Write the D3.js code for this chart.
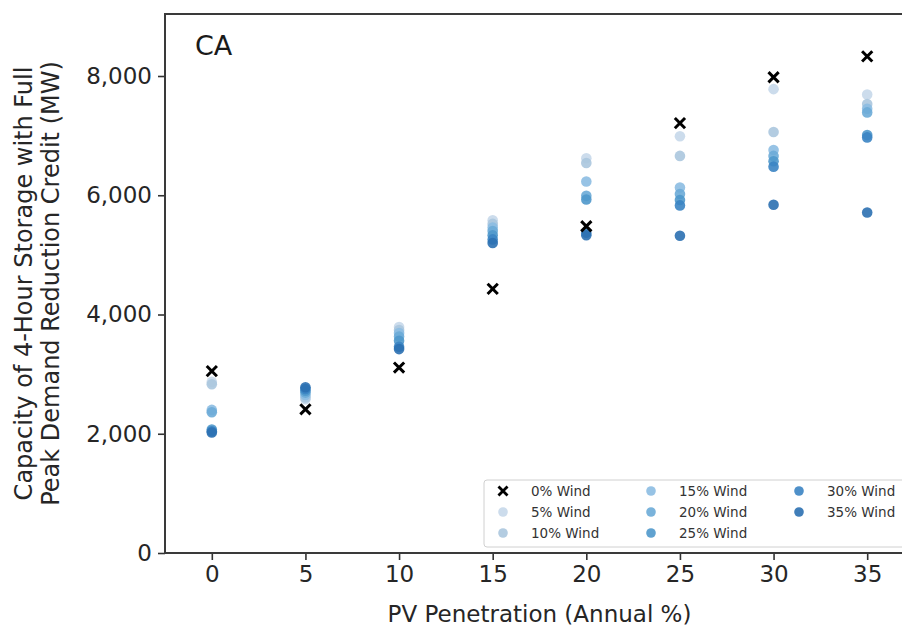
<!DOCTYPE html>
<html>
<head>
<meta charset="utf-8">
<script src="https://cdn.jsdelivr.net/npm/d3@7"></script>
<style>
  body { margin: 0; background: #fff; }
  text { font-family: "DejaVu Sans", sans-serif; }
</style>
</head>
<body>
<div id="chart"></div>
<script>
// PV penetration levels (x) and wind series
var pvLevels = [0, 5, 10, 15, 20, 25, 30, 35];
var windLabels = ["0% Wind", "5% Wind", "10% Wind", "15% Wind", "20% Wind", "25% Wind", "30% Wind", "35% Wind"];
var xTicks = [0, 5, 10, 15, 20, 25, 30, 35];
var yTicks = [0, 2000, 4000, 6000, 8000];

// storage capacity (MW) for each wind level, one value per PV level
var wind0 = [3050, 2410, 3110, 4430, 5480, 7210, 7980, 8330];
var wind5 = [2870, 2580, 3790, 5580, 6620, 6990, 7780, 7690];
var wind10 = [2830, 2610, 3740, 5520, 6540, 6660, 7060, 7530];
var wind15 = [2400, 2650, 3690, 5460, 6230, 6130, 6760, 7450];
var wind20 = [2360, 2690, 3630, 5400, 5990, 6020, 6660, 7390];
var wind25 = [2070, 2720, 3560, 5330, 5930, 5920, 6570, 7010];
var wind30 = [2040, 2750, 3460, 5260, 5370, 5830, 6480, 6970];
var wind35 = [2020, 2780, 3420, 5200, 5330, 5320, 5840, 5710];

var dotColors = ["#c6d8ea", "#abc6de", "#8cbce2", "#6cabd7", "#4f98cb", "#3b84c3", "#2b70b1"];

var W = 902, H = 628;
var margin = { top: 14, right: -12, bottom: 75, left: 165 },
  width = W - margin.left - margin.right,
  height = H - margin.top - margin.bottom;

var svg = d3.select("#chart")
  .append("svg")
  .attr("width", W)
  .attr("height", H);

var chart = svg.append("g")
  .attr("transform", "translate(" + margin.left + "," + margin.top + ")");

var x = d3.scaleLinear().domain([-2.5, 37.5]).range([0, width]);
var y = d3.scaleLinear().domain([0, 9040]).range([height, 0]);

// axes
var xAxis = chart.append("g")
  .attr("transform", "translate(0," + height + ")")
  .call(d3.axisBottom(x).tickValues(xTicks).tickSize(7).tickPadding(6).tickFormat(d3.format("d")));
var yAxis = chart.append("g")
  .call(d3.axisLeft(y).tickValues(yTicks).tickSize(7).tickPadding(6).tickFormat(d3.format(",")));

[xAxis, yAxis].forEach(function (a) {
  a.select(".domain").remove();
  a.selectAll(".tick line").attr("stroke", "#333").attr("stroke-width", 1.6);
  a.selectAll(".tick text").attr("fill", "#262626").style("font-size", "23px");
});

// spines
chart.append("rect")
  .attr("x", 0).attr("y", 0)
  .attr("width", width).attr("height", height)
  .attr("fill", "none")
  .attr("stroke", "#3a3a3a")
  .attr("stroke-width", 2);

// series
var allWind = [wind0, wind5, wind10, wind15, wind20, wind25, wind30, wind35];
var cross = d3.symbol().type(d3.symbolX).size(70);

allWind.slice(1).forEach(function (vals, i) {
  chart.append("g")
    .selectAll("circle")
    .data(vals)
    .enter().append("circle")
    .attr("cx", function (d, j) { return x(pvLevels[j]); })
    .attr("cy", function (d) { return y(d); })
    .attr("r", 5.3)
    .attr("fill", dotColors[i])
    .attr("fill-opacity", 0.9);
});

chart.append("g")
  .selectAll("path")
  .data(wind0)
  .enter().append("path")
  .attr("d", cross)
  .attr("transform", function (d, j) { return "translate(" + x(pvLevels[j]) + "," + y(d) + ")"; })
  .attr("fill", "none")
  .attr("stroke", "#000")
  .attr("stroke-width", 3);

// panel label
chart.append("text")
  .attr("x", 30)
  .attr("y", 41)
  .attr("fill", "#1a1a1a")
  .style("font-size", "27px")
  .text("CA");

// legend
var legend = svg.append("g").attr("transform", "translate(484,480)");
legend.append("rect")
  .attr("width", 424).attr("height", 67)
  .attr("rx", 3)
  .attr("fill", "#fff")
  .attr("fill-opacity", 0.85)
  .attr("stroke", "#d0d0d0");

windLabels.forEach(function (lab, i) {
  var col = Math.floor(i / 3), row = i % 3;
  var g = legend.append("g")
    .attr("transform", "translate(" + (19 + col * 148) + "," + (11 + row * 21) + ")");
  if (i === 0) {
    g.append("path")
      .attr("d", d3.symbol().type(d3.symbolX).size(55))
      .attr("fill", "none").attr("stroke", "#000").attr("stroke-width", 2.8);
  } else {
    g.append("circle").attr("r", 4.8).attr("fill", dotColors[i - 1]).attr("fill-opacity", 0.9);
  }
  g.append("text")
    .attr("x", 28)
    .attr("y", 5)
    .attr("fill", "#333")
    .style("font-size", "13.5px")
    .text(lab);
});

// axis labels
svg.append("text")
  .attr("x", margin.left + x(17.5))
  .attr("y", 622)
  .attr("text-anchor", "middle")
  .attr("fill", "#262626")
  .style("font-size", "23px")
  .text("PV Penetration (Annual %)");

var yLab = svg.append("text")
  .attr("transform", "translate(32," + (margin.top + height / 2) + ") rotate(-90)")
  .attr("text-anchor", "middle")
  .attr("fill", "#262626")
  .style("font-size", "24px");
yLab.append("tspan").attr("x", 0).attr("dy", 0).text("Capacity of 4-Hour Storage with Full");
yLab.append("tspan").attr("x", 0).attr("dy", 27).text("Peak Demand Reduction Credit (MW)");
</script>
</body>
</html>
